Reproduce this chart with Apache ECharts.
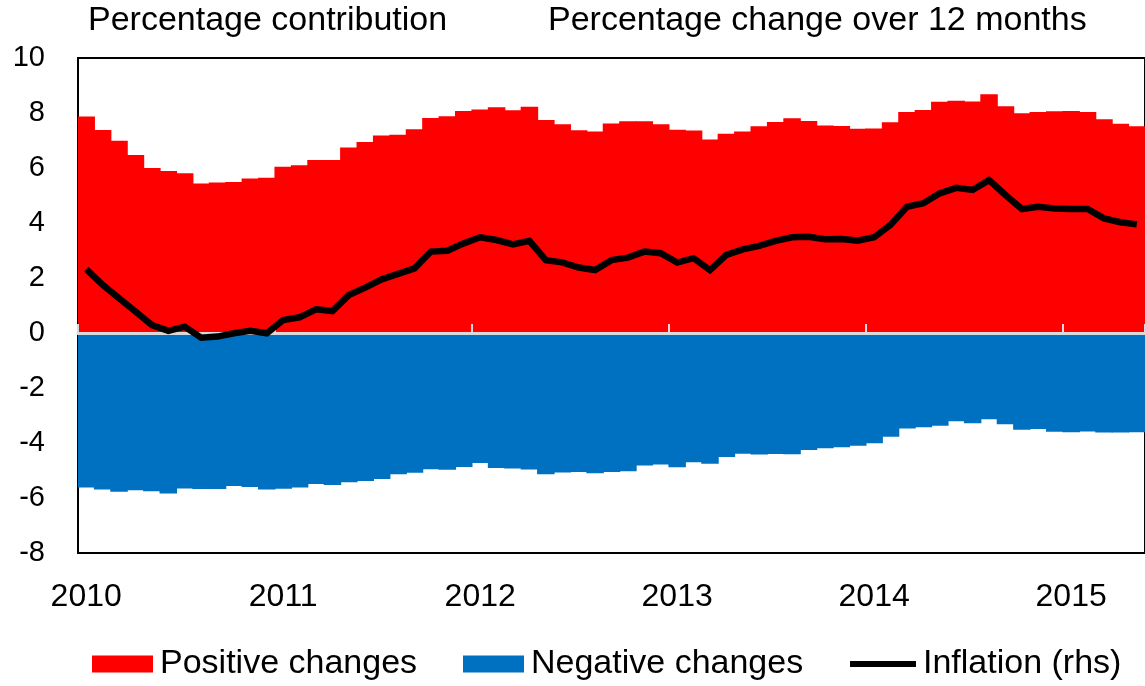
<!DOCTYPE html>
<html>
<head>
<meta charset="utf-8">
<title>Contributions to inflation</title>
<script src="https://cdn.jsdelivr.net/npm/echarts@6/dist/echarts.min.js"></script>
<style>
  html, body { margin: 0; padding: 0; background: #fff; }
  #chart { width: 1145px; height: 686px; }
</style>
</head>
<body>
<div id="chart"></div>
<script>
// monthly, Jan 2010 - May 2015
const years = ['2010', '2011', '2012', '2013', '2014', '2015']
const monthsInLastYear = 5

// percentage contribution of items with positive / negative changes
const positive = [
  7.87, 7.38, 6.99, 6.47, 6.00, 5.89, 5.81, 5.44, 5.47, 5.49, 5.62, 5.65,
  6.05, 6.10, 6.29, 6.29, 6.75, 6.95, 7.18, 7.21, 7.41, 7.82, 7.88, 8.07,
  8.13, 8.21, 8.10, 8.23, 7.75, 7.59, 7.37, 7.33, 7.62, 7.70, 7.70, 7.59,
  7.39, 7.36, 7.04, 7.25, 7.33, 7.52, 7.67, 7.81, 7.71, 7.55, 7.53, 7.43,
  7.44, 7.66, 8.04, 8.11, 8.41, 8.45, 8.42, 8.68, 8.25, 7.99, 8.04, 8.06,
  8.07, 8.04, 7.77, 7.61, 7.52
]
const negative = [
  -5.62, -5.69, -5.77, -5.72, -5.75, -5.84, -5.65, -5.67, -5.67, -5.56, -5.60, -5.69,
  -5.66, -5.62, -5.49, -5.53, -5.43, -5.38, -5.31, -5.14, -5.08, -4.95, -4.97, -4.87,
  -4.73, -4.91, -4.93, -4.96, -5.14, -5.07, -5.05, -5.10, -5.05, -5.03, -4.82, -4.78,
  -4.88, -4.70, -4.75, -4.51, -4.39, -4.42, -4.40, -4.41, -4.25, -4.19, -4.15, -4.10,
  -4.01, -3.77, -3.47, -3.43, -3.37, -3.21, -3.28, -3.14, -3.32, -3.52, -3.49, -3.59,
  -3.61, -3.58, -3.62, -3.62, -3.61
]
// inflation, % change over 12 months (rhs)
const inflation = [
  2.32, 1.75, 1.26, 0.78, 0.29, 0.08, 0.23, -0.17, -0.13, -0.01, 0.08, -0.01,
  0.47, 0.57, 0.86, 0.80, 1.38, 1.65, 1.95, 2.15, 2.35, 2.96, 2.99, 3.26,
  3.48, 3.38, 3.22, 3.35, 2.65, 2.57, 2.38, 2.29, 2.65, 2.74, 2.96, 2.90,
  2.56, 2.72, 2.29, 2.84, 3.04, 3.17, 3.35, 3.48, 3.50, 3.41, 3.42, 3.36,
  3.48, 3.93, 4.59, 4.72, 5.08, 5.28, 5.20, 5.56, 5.02, 4.51, 4.59, 4.53,
  4.51, 4.51, 4.17, 4.03, 3.95
]

const months = []
years.forEach((y, i) => {
  const n = i === years.length - 1 ? monthsInLastYear : 12
  for (let m = 1; m <= n; m++) months.push(y + '-' + String(m).padStart(2, '0'))
})

const FONT = "'Liberation Sans', Arial, sans-serif"
const RED = '#ff0000'
const BLUE = '#0070c0'
const isJan = (idx) => idx % 12 === 0

function legendAt(name, left, w, h) {
  return {
    data: [{ name: name, icon: 'rect' }], left: left, top: 647, padding: 0,
    itemWidth: w, itemHeight: h,
    textStyle: { fontSize: 34, color: '#000', fontFamily: FONT, padding: [0, 0, 0, 2] }
  }
}

const chart = echarts.init(document.getElementById('chart'))
chart.setOption({
  animation: false,
  textStyle: { fontFamily: FONT, color: '#000' },
  title: [
    { text: 'Percentage contribution', left: 88, top: 4, padding: 0,
      textStyle: { fontSize: 34, fontWeight: 'normal', color: '#000', fontFamily: FONT } },
    { text: 'Percentage change over 12 months', left: 548, top: 4, padding: 0,
      textStyle: { fontSize: 34, fontWeight: 'normal', color: '#000', fontFamily: FONT } }
  ],
  legend: [
    legendAt('Positive changes', 92, 61, 17),
    legendAt('Negative changes', 463, 61, 17),
    legendAt('Inflation (rhs)', 850, 66, 6)
  ],
  grid: {
    left: 78, right: -6, top: 58, bottom: 133,
    show: true, borderColor: '#000', borderWidth: 2, backgroundColor: 'transparent'
  },
  xAxis: [
    {
      // year labels along the bottom
      type: 'category', data: months, position: 'bottom',
      axisLine: { show: false, onZero: false },
      axisTick: { show: false },
      axisLabel: { interval: 11, margin: 28, fontSize: 32, color: '#000',
        formatter: v => v.slice(0, 4) },
      splitLine: { show: false }
    },
    {
      // zero line with year ticks
      type: 'category', data: months, position: 'bottom', z: 3,
      axisLine: { show: true, onZero: true, lineStyle: { color: '#d9d9d9', width: 3 } },
      axisTick: { show: true, inside: true, length: 9, interval: isJan,
        lineStyle: { color: '#d9d9d9', width: 2 } },
      axisLabel: { show: false },
      splitLine: { show: false }
    }
  ],
  yAxis: {
    type: 'value', min: -8, max: 10, interval: 2,
    axisLine: { show: false }, axisTick: { show: false },
    splitLine: { show: false },
    axisLabel: { fontSize: 29, color: '#000', margin: 33 }
  },
  series: [
    {
      name: 'Positive changes', type: 'bar', data: positive,
      barGap: '-100%', barWidth: 17.5,
      itemStyle: { color: RED }
    },
    {
      name: 'Negative changes', type: 'bar', data: negative,
      barGap: '-100%', barWidth: 17.5,
      itemStyle: { color: BLUE }
    },
    {
      name: 'Inflation (rhs)', type: 'line', data: inflation, z: 5,
      symbol: 'none', showSymbol: false,
      lineStyle: { color: '#000', width: 6.5, join: 'miter' },
      itemStyle: { color: '#000' }
    }
  ]
})
</script>
</body>
</html>
